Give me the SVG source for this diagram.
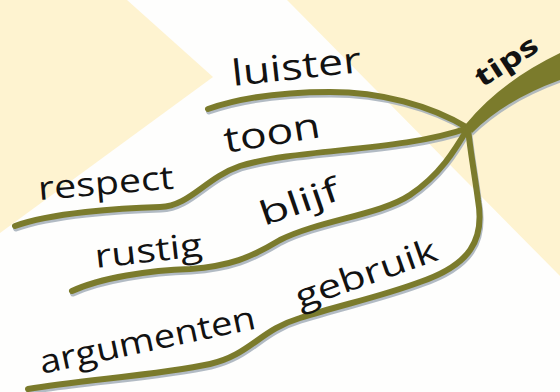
<svg xmlns="http://www.w3.org/2000/svg" width="560" height="392" viewBox="0 0 560 392">
<style>
.bg{fill:#fef3d0}
.br{fill:none;stroke:#7b7b2c;stroke-width:6;stroke-linecap:round;stroke-linejoin:round}
.sh{fill:none;stroke:#a4afba;stroke-width:6;stroke-linecap:round;opacity:0.85}
.lb{font-family:"Open Sans","Noto Sans","DejaVu Sans",sans-serif;fill:#121212}
</style>
<rect width="560" height="392" fill="#fefefd"/>
<g id="background">
<polygon class="bg" points="0,0 127,0 213,77 0,233"/>
<polygon class="bg" points="287,0 560,0 560,276"/>
</g>
<g id="connectors">
<g transform="translate(1,2.5)">
<path class="sh" d="M208,109 C240,98 280,92 330,92 C380,92 430,105 468,128"/>
<path class="sh" d="M15,226 C50,213 120,208 160,207 C190,206 205,178 240,166 C300,148 400,152 468,128"/>
<path class="sh" d="M72,291 C100,278 150,270 190,269 C230,266 250,258 280,240 C320,220 380,215 410,195 C440,175 455,150 468,128"/>
<path class="sh" d="M28,389 C80,380 160,375 210,364 C250,355 260,330 300,318 C340,305 380,297 420,282 C470,265 485,240 478,200 C474,170 470,150 468,128"/>
<path d="M466,124 Q500,82 560,53 L560,80 Q505,100 472,133 Z" fill="#a4afba" opacity="0.85"/>
</g>
<path class="br" d="M208,109 C240,98 280,92 330,92 C380,92 430,105 468,128"/>
<path class="br" d="M15,226 C50,213 120,208 160,207 C190,206 205,178 240,166 C300,148 400,152 468,128"/>
<path class="br" d="M72,291 C100,278 150,270 190,269 C230,266 250,258 280,240 C320,220 380,215 410,195 C440,175 455,150 468,128"/>
<path class="br" d="M28,389 C80,380 160,375 210,364 C250,355 260,330 300,318 C340,305 380,297 420,282 C470,265 485,240 478,200 C474,170 470,150 468,128"/>
<path d="M466,124 Q500,82 560,53 L560,80 Q505,100 472,133 Z" fill="#7b7b2c"/>
</g>
<g id="node-tips"><text class="lb" font-weight="bold" font-size="27" transform="translate(482,88) rotate(-33)" textLength="70" lengthAdjust="spacingAndGlyphs">tips</text></g>
<g id="node-luister"><text class="lb" font-size="36" transform="translate(233,86) rotate(-6.2)" textLength="130" lengthAdjust="spacingAndGlyphs">luister</text></g>
<g id="node-toon"><text class="lb" font-size="36" transform="translate(226,153) rotate(-9.5)" textLength="97" lengthAdjust="spacingAndGlyphs">toon</text></g>
<g id="node-respect"><text class="lb" font-size="33" transform="translate(39,200) rotate(-4.8)" textLength="136" lengthAdjust="spacingAndGlyphs">respect</text></g>
<g id="node-blijf"><text class="lb" font-size="33" transform="translate(264,226) rotate(-19)" textLength="82" lengthAdjust="spacingAndGlyphs">blijf</text></g>
<g id="node-rustig"><text class="lb" font-size="33" transform="translate(96,268) rotate(-6.4)" textLength="108" lengthAdjust="spacingAndGlyphs">rustig</text></g>
<g id="node-gebruik"><text class="lb" font-size="33" transform="translate(300,309) rotate(-19.5)" textLength="148" lengthAdjust="spacingAndGlyphs">gebruik</text></g>
<g id="node-argumenten"><text class="lb" font-size="33" transform="translate(42,374) rotate(-12)" textLength="220" lengthAdjust="spacingAndGlyphs">argumenten</text></g>
</svg>
